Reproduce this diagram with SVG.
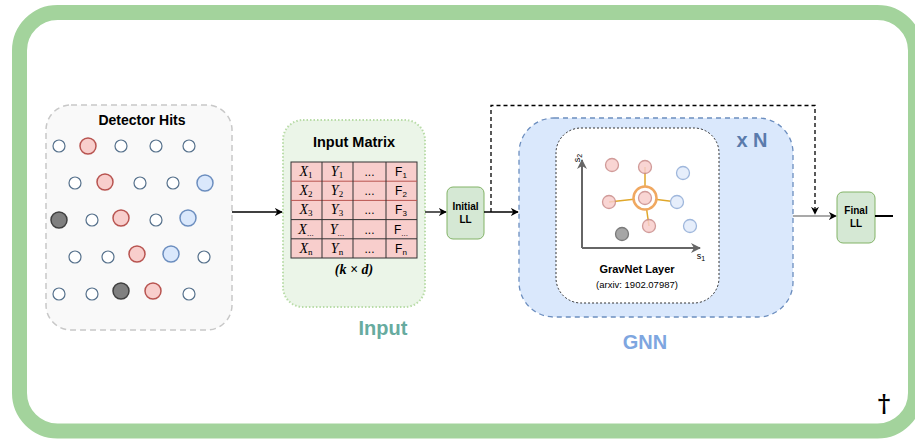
<svg xmlns="http://www.w3.org/2000/svg" width="915" height="442" viewBox="0 0 915 442">
  <defs>
    <marker id="arrow" viewBox="0 0 10 10" refX="9" refY="5" markerWidth="8" markerHeight="8" markerUnits="userSpaceOnUse" orient="auto">
      <path d="M0,0 L10,5 L0,10 L3,5 Z" fill="#000"/>
    </marker>
    <marker id="axisArrow" viewBox="0 0 10 10" refX="9" refY="5" markerWidth="10" markerHeight="10" markerUnits="userSpaceOnUse" orient="auto">
      <path d="M0,0 L10,5 L0,10 L3,5 Z" fill="#666"/>
    </marker>
    <style>
      .title { font-family: "Liberation Sans", Arial, sans-serif; font-weight: bold; fill: #000; text-anchor: middle; }
      .hit { fill: #fff; stroke: #56718c; stroke-width: 1.2; }
      .red { fill: #f8cecc; stroke: #b85450; stroke-width: 1.5; }
      .blue { fill: #dae8fc; stroke: #6c8ebf; stroke-width: 1.5; }
      .dark { fill: #808080; stroke: #404040; stroke-width: 1.5; }
      .math { font-family: "Liberation Serif", "Times New Roman", serif; font-style: italic; font-size: 14px; fill: #000; text-anchor: middle; }
      .sub { font-style: normal; font-size: 9px; }
      .cell { font-family: "Liberation Sans", Arial, sans-serif; font-size: 12px; fill: #000; text-anchor: middle; }
      .ll { fill: #d5e8d4; stroke: #82b366; stroke-width: 1; }
      .llText { font-family: "Liberation Sans", Arial, sans-serif; font-weight: bold; font-size: 10px; fill: #000; text-anchor: middle; }
      .conn { fill: none; stroke: #000; stroke-width: 1.3; }
      .pRed { fill: #f8cecc; stroke: #c98a88; stroke-width: 1.3; opacity: 0.85; }
      .pBlue { fill: #e6eefb; stroke: #9fb7dc; stroke-width: 1.3; }
      .edge { stroke: #e0a72a; stroke-width: 1.5; }
    </style>
  </defs>

  <!-- outer frame -->
  <rect x="19.5" y="12.5" width="896" height="418.5" rx="38" ry="38" fill="#fff" stroke="#a3d39c" stroke-width="15"/>

  <!-- detector hits -->
  <g id="detector-hits">
    <rect x="46" y="105" width="186" height="225" rx="25" ry="25" fill="#f9f9f9" stroke="#c8c8c8" stroke-width="1.5" stroke-dasharray="6 4"/>
    <text class="title" x="142" y="125" font-size="14">Detector Hits</text>
    <!-- row 1 -->
    <circle class="hit" cx="59" cy="146" r="6"/>
    <circle class="red" cx="88" cy="146" r="8"/>
    <circle class="hit" cx="121" cy="146" r="6"/>
    <circle class="hit" cx="156" cy="146" r="6"/>
    <circle class="hit" cx="189" cy="146" r="6"/>
    <!-- row 2 -->
    <circle class="hit" cx="75" cy="183" r="6"/>
    <circle class="red" cx="105" cy="182" r="8"/>
    <circle class="hit" cx="140" cy="183" r="6"/>
    <circle class="hit" cx="173" cy="183" r="6"/>
    <circle class="blue" cx="205" cy="183" r="8"/>
    <!-- row 3 -->
    <circle class="dark" cx="59" cy="220" r="8"/>
    <circle class="hit" cx="92" cy="220" r="6"/>
    <circle class="red" cx="121" cy="218" r="8"/>
    <circle class="hit" cx="156" cy="220" r="6"/>
    <circle class="blue" cx="188" cy="218" r="8"/>
    <!-- row 4 -->
    <circle class="hit" cx="75" cy="257" r="6"/>
    <circle class="hit" cx="108" cy="257" r="6"/>
    <circle class="red" cx="137" cy="254" r="8"/>
    <circle class="blue" cx="171" cy="254" r="8"/>
    <circle class="hit" cx="204" cy="257" r="6"/>
    <!-- row 5 -->
    <circle class="hit" cx="59" cy="294" r="6"/>
    <circle class="hit" cx="92" cy="294" r="6"/>
    <circle class="dark" cx="121" cy="291" r="8"/>
    <circle class="red" cx="153" cy="291" r="8"/>
    <circle class="hit" cx="189" cy="294" r="6"/>
  </g>

  <!-- input matrix -->
  <g id="input-matrix">
    <rect x="283" y="120" width="142" height="187" rx="20" ry="20" fill="#ebf5e8" stroke="#b9dca8" stroke-width="2" stroke-dasharray="1.5 2"/>
    <text class="title" x="354" y="147" font-size="14.5">Input Matrix</text>
    <rect x="291" y="162" width="126" height="96" fill="#f8cecc" stroke="#333" stroke-width="1"/>
    <g stroke="#b85450" stroke-width="1">
      <line x1="291" y1="181.2" x2="417" y2="181.2"/>
      <line x1="291" y1="200.4" x2="417" y2="200.4"/>
    </g>
    <g stroke="#333" stroke-width="1">
      <line x1="291" y1="219.6" x2="417" y2="219.6"/>
      <line x1="291" y1="238.8" x2="417" y2="238.8"/>
      <line x1="322" y1="162" x2="322" y2="258"/>
      <line x1="353" y1="162" x2="353" y2="258"/>
      <line x1="386" y1="162" x2="386" y2="258"/>
    </g>
    <!-- column X -->
    <text class="math" x="306" y="176">X<tspan class="sub" dy="2">1</tspan></text>
    <text class="math" x="306" y="195">X<tspan class="sub" dy="2">2</tspan></text>
    <text class="math" x="306" y="214">X<tspan class="sub" dy="2">3</tspan></text>
    <text class="math" x="306" y="234">X<tspan class="sub" dy="2">...</tspan></text>
    <text class="math" x="306" y="253">X<tspan class="sub" dy="2">n</tspan></text>
    <!-- column Y -->
    <text class="math" x="337" y="176">Y<tspan class="sub" dy="2">1</tspan></text>
    <text class="math" x="337" y="195">Y<tspan class="sub" dy="2">2</tspan></text>
    <text class="math" x="337" y="214">Y<tspan class="sub" dy="2">3</tspan></text>
    <text class="math" x="337" y="234">Y<tspan class="sub" dy="2">...</tspan></text>
    <text class="math" x="337" y="253">Y<tspan class="sub" dy="2">n</tspan></text>
    <!-- ellipsis column -->
    <text class="cell" x="369.5" y="176" font-size="9">...</text>
    <text class="cell" x="369.5" y="195" font-size="9">...</text>
    <text class="cell" x="369.5" y="214" font-size="9">...</text>
    <text class="cell" x="369.5" y="234" font-size="9">...</text>
    <text class="cell" x="369.5" y="253" font-size="9">...</text>
    <!-- column F -->
    <text class="cell" x="401" y="176">F<tspan font-size="8" dy="2">1</tspan></text>
    <text class="cell" x="401" y="195">F<tspan font-size="8" dy="2">2</tspan></text>
    <text class="cell" x="401" y="214">F<tspan font-size="8" dy="2">3</tspan></text>
    <text class="cell" x="401" y="234">F<tspan font-size="8" dy="2">...</tspan></text>
    <text class="cell" x="401" y="253">F<tspan font-size="8" dy="2">n</tspan></text>
    <text class="math" x="354" y="274" font-size="12.5" font-weight="bold">(k × d)</text>
  </g>

  <text id="label-input" x="383" y="335" font-family="Liberation Sans, Arial, sans-serif" font-weight="bold" font-size="20" fill="#67ab9f" text-anchor="middle">Input</text>

  <!-- initial linear layer -->
  <g id="initial-ll">
    <rect class="ll" x="447" y="187" width="37" height="52" rx="6" ry="6"/>
    <text class="llText" x="465.5" y="210">Initial</text>
    <text class="llText" x="465.5" y="223">LL</text>
  </g>

  <!-- GNN block -->
  <g id="gnn">
    <rect x="519" y="118" width="274" height="199" rx="35" ry="35" fill="#dae8fc" stroke="#6c8ebf" stroke-width="1.3" stroke-dasharray="5 4"/>
    <text x="752" y="147" font-family="Liberation Sans, Arial, sans-serif" font-weight="bold" font-size="20" fill="#5a7bac" text-anchor="middle">x N</text>
  </g>

  <g id="gravnet-layer">
    <rect x="556" y="128" width="163" height="175" rx="25" ry="25" fill="#fff" stroke="#333" stroke-width="1" stroke-dasharray="2 2"/>
    <!-- axes -->
    <line x1="582" y1="248" x2="582" y2="160" stroke="#666" stroke-width="2" marker-end="url(#axisArrow)"/>
    <line x1="582" y1="248" x2="700" y2="248" stroke="#666" stroke-width="2" marker-end="url(#axisArrow)"/>
    <text x="0" y="0" transform="translate(580,158) rotate(-90)" font-family="Liberation Sans, Arial, sans-serif" font-size="9" fill="#000" text-anchor="middle">s<tspan font-size="7" dy="2">2</tspan></text>
    <text x="701" y="259" font-family="Liberation Sans, Arial, sans-serif" font-size="9" fill="#000" text-anchor="middle">s<tspan font-size="7" dy="2">1</tspan></text>
    <!-- neighbour edges -->
    <line class="edge" x1="645" y1="198" x2="645" y2="167"/>
    <line class="edge" x1="645" y1="198" x2="609" y2="202"/>
    <line class="edge" x1="645" y1="198" x2="677" y2="202"/>
    <line class="edge" x1="645" y1="198" x2="649" y2="226"/>
    <!-- points -->
    <circle class="pRed" cx="612" cy="165" r="6.5"/>
    <circle class="pRed" cx="645" cy="167" r="6.5"/>
    <circle class="pBlue" cx="683" cy="173" r="6.5"/>
    <circle class="pRed" cx="609" cy="202" r="6.5"/>
    <circle cx="645" cy="198" r="11.5" fill="#fff" stroke="#f0a860" stroke-width="2.5"/>
    <circle class="pRed" cx="645" cy="198" r="6.5"/>
    <circle class="pBlue" cx="677" cy="202" r="6.5"/>
    <circle class="pRed" cx="649" cy="226" r="6.5"/>
    <circle class="pBlue" cx="690" cy="226" r="6.5"/>
    <circle cx="622" cy="234" r="6.5" fill="#a6a6a6" stroke="#7a7a7a" stroke-width="1.3"/>
    <text class="title" x="637" y="273" font-size="11">GravNet Layer</text>
    <text x="637" y="288" font-family="Liberation Sans, Arial, sans-serif" font-size="9.5" fill="#000" text-anchor="middle">(arxiv: 1902.07987)</text>
  </g>

  <text id="label-gnn" x="645" y="349" font-family="Liberation Sans, Arial, sans-serif" font-weight="bold" font-size="20" fill="#7ea6e0" text-anchor="middle">GNN</text>

  <!-- final linear layer -->
  <g id="final-ll">
    <rect class="ll" x="837" y="192" width="38" height="51" rx="6" ry="6"/>
    <text class="llText" x="856" y="214">Final</text>
    <text class="llText" x="856" y="227">LL</text>
  </g>

  <!-- connectors -->
  <g id="connectors">
    <line class="conn" x1="232" y1="212" x2="282" y2="212" marker-end="url(#arrow)"/>
    <line class="conn" x1="425" y1="212" x2="446" y2="212" marker-end="url(#arrow)"/>
    <line class="conn" x1="484" y1="212" x2="518" y2="212" marker-end="url(#arrow)"/>
    <path class="conn" d="M491,212 V105.5 H815 V214" stroke-dasharray="4 3" marker-end="url(#arrow)"/>
    <line x1="793" y1="216" x2="836" y2="216" stroke="#555" stroke-width="1.2" marker-end="url(#arrow)"/>
    <line x1="875" y1="216" x2="893" y2="216" stroke="#000" stroke-width="2"/>
  </g>

  <!-- dagger mark -->
  <text x="884" y="412" font-family="DejaVu Serif, Liberation Serif, serif" font-weight="bold" font-size="24" fill="#000" text-anchor="middle">†</text>
</svg>
